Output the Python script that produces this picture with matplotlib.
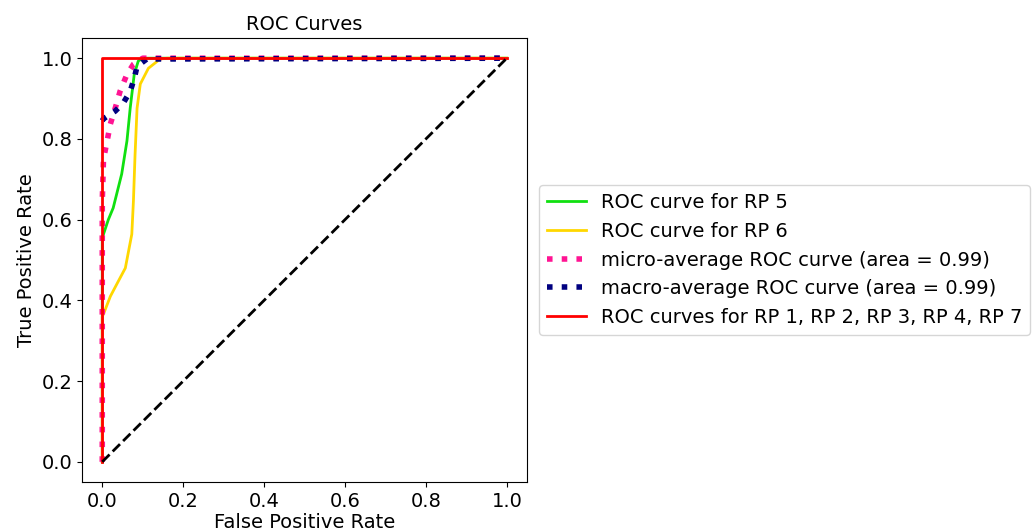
import matplotlib
matplotlib.use("Agg")
import matplotlib.pyplot as plt

# RP 5 (green)
fpr_rp5 = [0.0, 0.0, 0.003, 0.015, 0.027, 0.048, 0.061, 0.069, 0.079, 0.089, 0.10, 1.0]
tpr_rp5 = [0.0, 0.55, 0.564, 0.60, 0.629, 0.713, 0.795, 0.876, 0.960, 0.993, 1.0, 1.0]
# RP 6 (yellow)
fpr_rp6 = [0.0, 0.0, 0.003, 0.02, 0.04, 0.057, 0.073, 0.077, 0.081, 0.086, 0.094, 0.114, 0.143, 0.16, 1.0]
tpr_rp6 = [0.0, 0.36, 0.366, 0.41, 0.448, 0.48, 0.564, 0.646, 0.76, 0.876, 0.936, 0.975, 0.998, 1.0, 1.0]
# micro-average
fpr_micro = [0.0, 0.0, 0.003, 0.012, 0.02, 0.032, 0.044, 0.061, 0.077, 0.10, 1.0]
tpr_micro = [0.0, 0.646, 0.75, 0.795, 0.837, 0.876, 0.918, 0.96, 0.985, 1.0, 1.0]
# macro-average
fpr_macro = [0.0, 0.003, 0.032, 0.052, 0.069, 0.079, 0.086, 0.11, 1.0]
tpr_macro = [0.845, 0.85, 0.869, 0.889, 0.918, 0.95, 0.98, 0.998, 1.0]
# RP 1,2,3,4,7 (perfect)
fpr_rest = [0.0, 0.0, 1.0]
tpr_rest = [0.0, 1.0, 1.0]

plt.rcParams['font.size'] = 14
fig = plt.figure(figsize=(10.32, 5.31), dpi=100)
ax = fig.add_axes([0.0795, 0.0923, 0.4312, 0.8361])

ax.plot(fpr_rp5, tpr_rp5, color='#10e010', lw=2, label='ROC curve for RP 5')
ax.plot(fpr_rp6, tpr_rp6, color='gold', lw=2, label='ROC curve for RP 6')
ax.plot(fpr_micro, tpr_micro, color='deeppink', lw=4, linestyle=':',
        label='micro-average ROC curve (area = 0.99)')
ax.plot(fpr_macro, tpr_macro, color='navy', lw=4, linestyle=':',
        label='macro-average ROC curve (area = 0.99)')
ax.plot(fpr_rest, tpr_rest, color='red', lw=2,
        label='ROC curves for RP 1, RP 2, RP 3, RP 4, RP 7')
ax.plot([0, 1], [0, 1], 'k--', lw=2)

ax.set_xlabel('False Positive Rate', labelpad=2)
ax.set_ylabel('True Positive Rate')
ax.set_title('ROC Curves', fontsize=14)
ax.legend(loc='center left', bbox_to_anchor=(1.005, 0.5), fontsize=14)

fig.savefig('out.png', dpi=100)
